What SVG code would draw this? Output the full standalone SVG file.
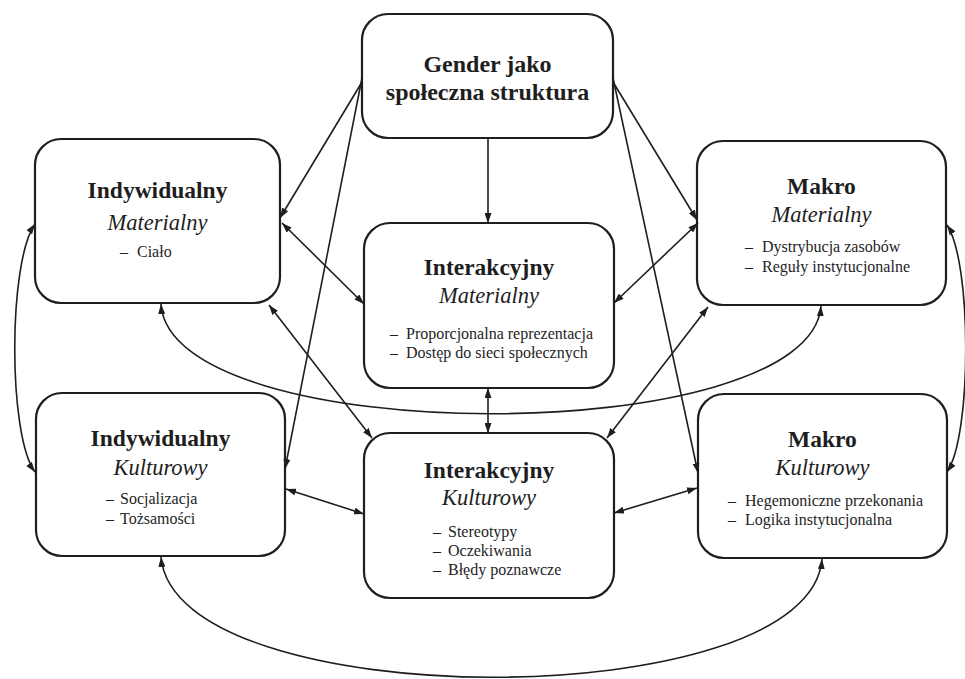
<svg xmlns="http://www.w3.org/2000/svg" width="965" height="679" viewBox="0 0 965 679">
<style>
.box{fill:#fff;stroke:#1e1e1e;stroke-width:2.2}
.t{font-family:"Liberation Serif","Times New Roman",serif;fill:#1e1e1e;text-anchor:middle}
.h{font-weight:bold;font-size:23.5px}
.h0{font-weight:bold;font-size:24px}
.i{font-style:italic;font-size:22.5px}
.b{font-family:"Liberation Serif","Times New Roman",serif;fill:#1e1e1e;font-size:16px}
.c{fill:none;stroke:#1e1e1e;stroke-width:1.6}
.s{marker-end:url(#ah)}
.d{marker-start:url(#ah);marker-end:url(#ah)}
</style>
<defs>
<marker id="ah" viewBox="0 0 10 7" refX="10" refY="3.5" markerWidth="10" markerHeight="7" markerUnits="userSpaceOnUse" orient="auto-start-reverse">
<path d="M0,0 L10,3.5 L0,7 z" fill="#1e1e1e"/>
</marker>
</defs>

<g id="node-gender">
<rect class="box" x="362" y="14" width="251" height="124" rx="26"/>
<text class="t h0" x="487.5" y="72">Gender jako</text>
<text class="t h0" x="487.5" y="100">społeczna struktura</text>
</g>

<g id="node-ind-mat">
<rect class="box" x="35" y="139" width="245" height="164" rx="26"/>
<text class="t h" x="157.5" y="198">Indywidualny</text>
<text class="t i" x="157.5" y="230">Materialny</text>
<text class="b" y="257"><tspan x="120">–</tspan><tspan x="137">Ciało</tspan></text>
</g>

<g id="node-int-mat">
<rect class="box" x="364" y="223" width="250" height="165" rx="26"/>
<text class="t h" x="489" y="275">Interakcyjny</text>
<text class="t i" x="489" y="303">Materialny</text>
<text class="b" y="339"><tspan x="390">–</tspan><tspan x="406">Proporcjonalna reprezentacja</tspan></text>
<text class="b" y="358"><tspan x="390">–</tspan><tspan x="406">Dostęp do sieci społecznych</tspan></text>
</g>

<g id="node-makro-mat">
<rect class="box" x="697" y="141" width="249" height="164" rx="26"/>
<text class="t h" x="821.5" y="194">Makro</text>
<text class="t i" x="821.5" y="222">Materialny</text>
<text class="b" y="252"><tspan x="745">–</tspan><tspan x="762">Dystrybucja zasobów</tspan></text>
<text class="b" y="272"><tspan x="745">–</tspan><tspan x="762">Reguły instytucjonalne</tspan></text>
</g>

<g id="node-ind-kult">
<rect class="box" x="36" y="393" width="249" height="163" rx="26"/>
<text class="t h" x="160.5" y="446">Indywidualny</text>
<text class="t i" x="160.5" y="475">Kulturowy</text>
<text class="b" y="504"><tspan x="106">–</tspan><tspan x="120">Socjalizacja</tspan></text>
<text class="b" y="524"><tspan x="106">–</tspan><tspan x="120">Tożsamości</tspan></text>
</g>

<g id="node-int-kult">
<rect class="box" x="364" y="433" width="250" height="165" rx="26"/>
<text class="t h" x="489" y="478">Interakcyjny</text>
<text class="t i" x="489" y="505">Kulturowy</text>
<text class="b" y="537"><tspan x="433">–</tspan><tspan x="448">Stereotypy</tspan></text>
<text class="b" y="556"><tspan x="433">–</tspan><tspan x="448">Oczekiwania</tspan></text>
<text class="b" y="575"><tspan x="433">–</tspan><tspan x="448">Błędy poznawcze</tspan></text>
</g>

<g id="node-makro-kult">
<rect class="box" x="698" y="394" width="249" height="164" rx="26"/>
<text class="t h" x="822.5" y="447">Makro</text>
<text class="t i" x="822.5" y="475">Kulturowy</text>
<text class="b" y="506"><tspan x="728">–</tspan><tspan x="745">Hegemoniczne przekonania</tspan></text>
<text class="b" y="525"><tspan x="728">–</tspan><tspan x="745">Logika instytucjonalna</tspan></text>
</g>

<g id="connectors">
<path class="c s" d="M488,138 L488,223"/>
<path class="c s" d="M362,82 L280,218"/>
<path class="c s" d="M362,78 L285,469"/>
<path class="c s" d="M613,82 L697,220"/>
<path class="c s" d="M613,78 L698,473"/>
<path class="c d" d="M282,223 L364,304"/>
<path class="c d" d="M269,305 L372,438"/>
<path class="c d" d="M698,223 L614,303"/>
<path class="c d" d="M708,307 L607,438"/>
<path class="c d" d="M488,388 L488,433"/>
<path class="c d" d="M286,489 L364,514"/>
<path class="c d" d="M614,513 L697,488"/>
<path class="c d" d="M35,224 C8,262 8,436 35,472"/>
<path class="c d" d="M947,225 C972,262 972,436 947,472"/>
<path class="c d" d="M161,304 C170,450 810,450 821,306"/>
<path class="c d" d="M161,557 C175,717 810,717 822,559"/>
</g>
</svg>
